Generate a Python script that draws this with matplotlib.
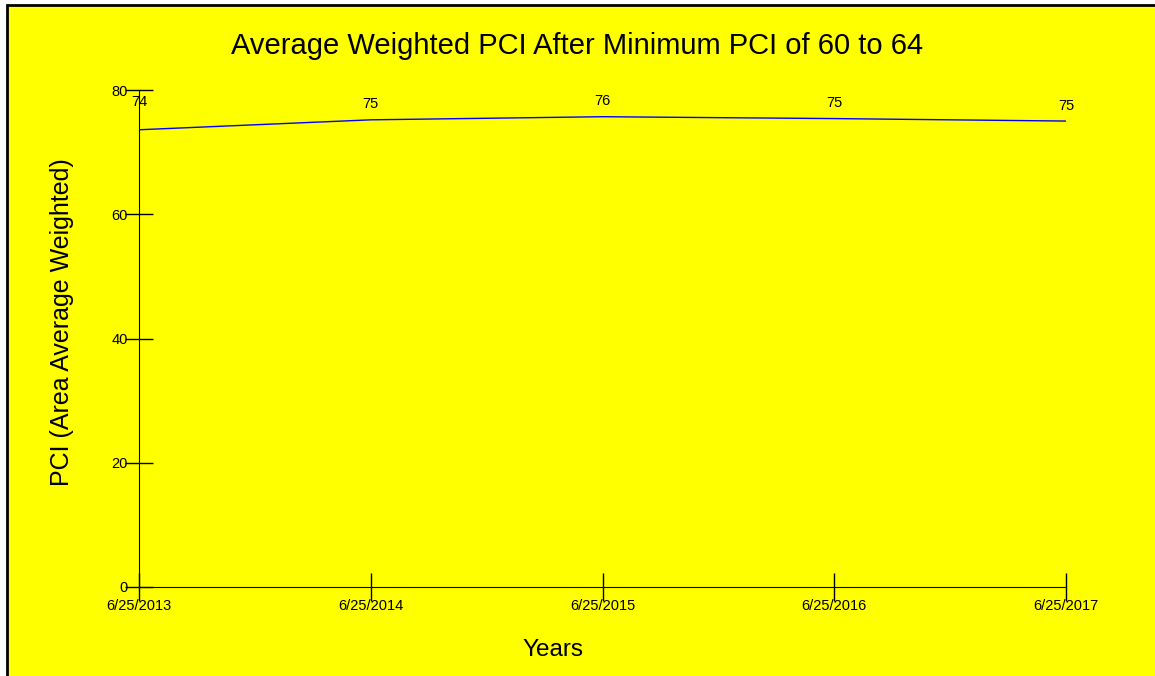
import matplotlib
matplotlib.use("Agg")
import matplotlib.pyplot as plt
from matplotlib.patches import Rectangle

# data
years = ["6/25/2013", "6/25/2014", "6/25/2015", "6/25/2016", "6/25/2017"]
pci = [73.6, 75.2, 75.7, 75.4, 75.0]
pci_labels = ["74", "75", "76", "75", "75"]
y_ticks = [0, 20, 40, 60, 80]

plt.rcParams['font.family'] = ['Liberation Sans', 'DejaVu Sans']

fig = plt.figure(figsize=(11.55, 6.76), dpi=100, facecolor="white")

# yellow panel with black border on left/top
panel = Rectangle((6.5 / 1155, -0.1), 1.2, 1.1 - 5.5 / 676,
                  transform=fig.transFigure, facecolor="#ffff00",
                  edgecolor="black", linewidth=2, zorder=-10)
fig.patches.append(panel)

ax = fig.add_axes([139 / 1155, 1 - 587 / 676, (1066 - 139) / 1155, (587 - 90) / 676])
ax.set_facecolor("none")
ax.set_zorder(5)

x = list(range(len(years)))
ax.plot(x, pci, color="#0000ff", linewidth=1)

# label offsets in points (first label sits higher in the original)
offsets = [15, 6, 6, 6, 6]
for xi, v, lab, off in zip(x, pci, pci_labels, offsets):
    ax.annotate(lab, (xi, v), xytext=(0, off), textcoords="offset points",
                ha="center", va="bottom", fontsize=10.5)

ax.set_xlim(0, 4)
ax.set_ylim(0, 80)
ax.set_xticks(x)
ax.set_xticklabels(years)
ax.set_yticks(y_ticks)
ax.tick_params(axis="both", direction="inout", length=20, width=1, labelsize=10.5)
ax.tick_params(axis="x", pad=-1)
ax.tick_params(axis="y", pad=-2)

for side in ["top", "right"]:
    ax.spines[side].set_visible(False)

fig.text(553 / 1155, 1 - 650 / 676, "Years", ha="center", va="center", fontsize=17.5)
fig.text(62 / 1155, 1 - 322 / 676, "PCI (Area Average Weighted)", ha="center", va="center",
         rotation=90, fontsize=18)
fig.text(0.5, 1 - 46 / 676, "Average Weighted PCI After Minimum PCI of 60 to 64",
         ha="center", va="center", fontsize=21, zorder=5)

fig.savefig("out.png", dpi=100, facecolor=fig.get_facecolor())
